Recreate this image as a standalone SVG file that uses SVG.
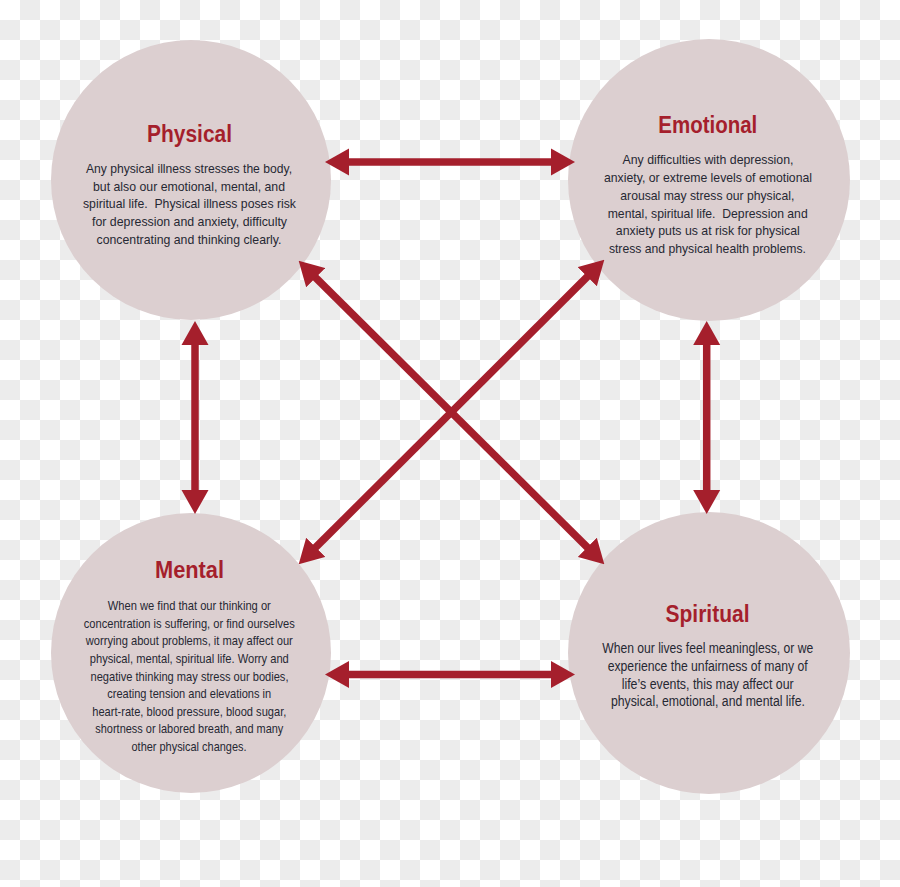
<svg xmlns="http://www.w3.org/2000/svg" width="900" height="887" viewBox="0 0 900 887">
  <defs>
    <pattern id="checker" patternUnits="userSpaceOnUse" x="0" y="0" width="40" height="40">
      <rect x="0" y="0" width="40" height="40" fill="#ffffff"/>
      <rect x="20" y="0" width="20" height="20" fill="#ececec"/>
      <rect x="0" y="20" width="20" height="20" fill="#ececec"/>
    </pattern>
    <marker id="head" markerUnits="userSpaceOnUse" viewBox="0 -14 24 28" markerWidth="24" markerHeight="28" refX="1" refY="0" orient="auto-start-reverse">
      <path d="M0,-13.5 L24,0 L0,13.5 z" fill="#a51f2c"/>
    </marker>
    <style>
      .circle { fill: #dccfd0; }
      .title { font-family: "Liberation Sans", Arial, sans-serif; font-weight: bold; font-size: 23px; fill: #a51f2c; text-anchor: middle; }
      .body { font-family: "Liberation Sans", Arial, sans-serif; font-size: 13.5px; fill: #262833; text-anchor: middle; }
      .conn { stroke: #a51f2c; stroke-width: 7.5; fill: none; marker-start: url(#head); marker-end: url(#head); }
    </style>
  </defs>
  <rect x="0" y="0" width="900" height="887" fill="url(#checker)"/>

  <g id="physical">
    <circle class="circle" cx="191" cy="180" r="140"/>
    <text class="title" x="189.5" y="141.7" textLength="85" lengthAdjust="spacingAndGlyphs">Physical</text>
    <text class="body" x="189" y="172.7" textLength="206" lengthAdjust="spacingAndGlyphs">Any physical illness stresses the body,</text>
    <text class="body" x="189" y="190.5" textLength="192" lengthAdjust="spacingAndGlyphs">but also our emotional, mental, and</text>
    <text class="body" x="189.5" y="208.3" textLength="213" lengthAdjust="spacingAndGlyphs" xml:space="preserve">spiritual life.  Physical illness poses risk</text>
    <text class="body" x="189.5" y="226" textLength="195" lengthAdjust="spacingAndGlyphs">for depression and anxiety, difficulty</text>
    <text class="body" x="189" y="243.5" textLength="185" lengthAdjust="spacingAndGlyphs">concentrating and thinking clearly.</text>
  </g>

  <g id="emotional">
    <circle class="circle" cx="709" cy="180" r="141"/>
    <text class="title" x="707.8" y="133.3" textLength="99" lengthAdjust="spacingAndGlyphs">Emotional</text>
    <text class="body" x="708" y="164.3" textLength="171" lengthAdjust="spacingAndGlyphs">Any difficulties with depression,</text>
    <text class="body" x="708" y="182.2" textLength="208" lengthAdjust="spacingAndGlyphs">anxiety, or extreme levels of emotional</text>
    <text class="body" x="707.3" y="200" textLength="174" lengthAdjust="spacingAndGlyphs">arousal may stress our physical,</text>
    <text class="body" x="707.7" y="217.6" textLength="200" lengthAdjust="spacingAndGlyphs" xml:space="preserve">mental, spiritual life.  Depression and</text>
    <text class="body" x="707.8" y="235.2" textLength="184" lengthAdjust="spacingAndGlyphs">anxiety puts us at risk for physical</text>
    <text class="body" x="707.4" y="252.8" textLength="197" lengthAdjust="spacingAndGlyphs">stress and physical health problems.</text>
  </g>

  <g id="mental">
    <circle class="circle" cx="191" cy="653" r="140"/>
    <text class="title" x="189.5" y="578.3" textLength="69" lengthAdjust="spacingAndGlyphs">Mental</text>
    <text class="body" x="189.3" y="610" textLength="163" lengthAdjust="spacingAndGlyphs">When we find that our thinking or</text>
    <text class="body" x="189.3" y="627.7" textLength="211" lengthAdjust="spacingAndGlyphs">concentration is suffering, or find ourselves</text>
    <text class="body" x="189.3" y="645.3" textLength="207" lengthAdjust="spacingAndGlyphs">worrying about problems, it may affect our</text>
    <text class="body" x="189.3" y="663" textLength="199" lengthAdjust="spacingAndGlyphs">physical, mental, spiritual life. Worry and</text>
    <text class="body" x="189.5" y="680.5" textLength="198" lengthAdjust="spacingAndGlyphs">negative thinking may stress our bodies,</text>
    <text class="body" x="189.2" y="698" textLength="164" lengthAdjust="spacingAndGlyphs">creating tension and elevations in</text>
    <text class="body" x="189.3" y="715.5" textLength="194" lengthAdjust="spacingAndGlyphs">heart-rate, blood pressure, blood sugar,</text>
    <text class="body" x="189.3" y="733.2" textLength="188" lengthAdjust="spacingAndGlyphs">shortness or labored breath, and many</text>
    <text class="body" x="189" y="750.8" textLength="115" lengthAdjust="spacingAndGlyphs">other physical changes.</text>
  </g>

  <g id="spiritual">
    <circle class="circle" cx="709" cy="653" r="141"/>
    <text class="title" x="707.5" y="621.7" textLength="84" lengthAdjust="spacingAndGlyphs">Spiritual</text>
    <text class="body" x="707.7" y="653.4" textLength="211" lengthAdjust="spacingAndGlyphs" style="font-size:14px">When our lives feel meaningless, or we</text>
    <text class="body" x="707.7" y="671" textLength="200" lengthAdjust="spacingAndGlyphs" style="font-size:14px">experience the unfairness of many of</text>
    <text class="body" x="707.7" y="688.7" textLength="172" lengthAdjust="spacingAndGlyphs" style="font-size:14px">life’s events, this may affect our</text>
    <text class="body" x="707.9" y="706.4" textLength="194" lengthAdjust="spacingAndGlyphs" style="font-size:14px">physical, emotional, and mental life.</text>
  </g>

  <g id="connectors">
    <line class="conn" x1="348" y1="162" x2="552" y2="162"/>
    <line class="conn" x1="348" y1="674.5" x2="552" y2="674.5"/>
    <line class="conn" x1="195" y1="344" x2="195" y2="491"/>
    <line class="conn" x1="706.7" y1="344" x2="706.7" y2="491"/>
    <line class="conn" x1="315" y1="277" x2="588" y2="548"/>
    <line class="conn" x1="588" y1="276" x2="315" y2="548"/>
  </g>
</svg>
